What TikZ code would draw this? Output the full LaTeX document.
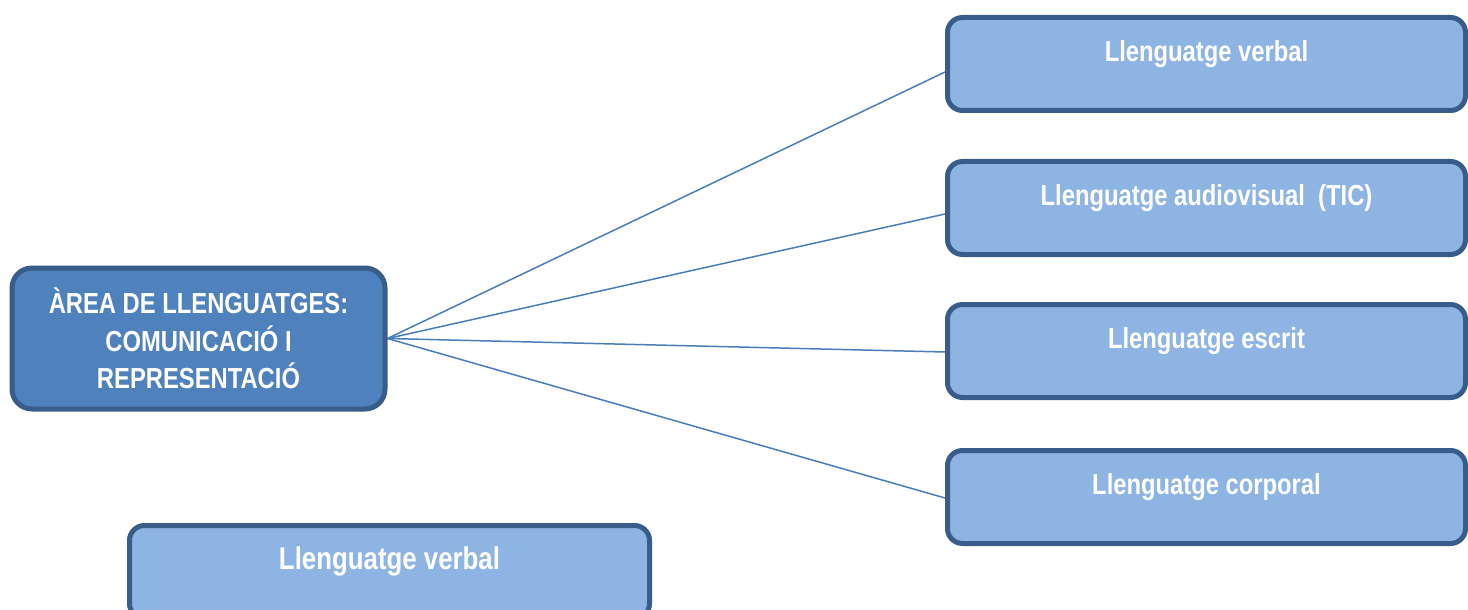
\documentclass[tikz,border=0pt]{standalone}
\usepackage{fontspec}
\setmainfont{Liberation Sans}
\newfontfamily\narrowfont[FakeStretch=0.82]{Liberation Sans}
\usetikzlibrary{calc, backgrounds}
\definecolor{areafill}{HTML}{4F81BD}
\definecolor{langfill}{HTML}{8EB4E3}
\definecolor{boxedge}{HTML}{385D8A}
\definecolor{linkblue}{HTML}{4A7EBB}

\begin{document}
\begin{tikzpicture}[x=0.5pt, y=-0.5pt,
		boxfont/.style={font=\narrowfont\bfseries\fontsize{14.5}{18.75}\selectfont, text=white},
		areabox/.style={boxfont, draw=boxedge, line width=2.5pt, fill=areafill, rounded corners=10pt,
			align=center, minimum width=186.5pt, minimum height=70.5pt, inner sep=0pt},
		langbox/.style={boxfont, draw=boxedge, line width=2.5pt, fill=langfill, rounded corners=7.5pt,
			minimum width=259pt, inner sep=0pt, text height=22pt, text depth=24.5pt},
		link/.style={draw=linkblue, line width=0.75pt}]

	\path[use as bounding box] (0,0) rectangle (1468,610);
	\clip (0,0) rectangle (1468,610);

	\node[areabox] (area) at (198.5,338.5) {ÀREA DE LLENGUATGES:\\ COMUNICACIÓ I\\ REPRESENTACIÓ};

	\foreach \n/\y/\txt in {1/64/Llenguatge verbal, 2/208/Llenguatge audiovisual~ (TIC),
		3/351/Llenguatge escrit, 4/497/Llenguatge corporal}
	{
		\node[langbox] (lang\n) at (1206.5,\y) {\txt};
	}

	\node[langbox, minimum width=260pt, font=\narrowfont\bfseries\fontsize{15.75}{19}\selectfont]
		(loose) at (389.5,572) {Llenguatge verbal};

	% links go under the boxes
	\begin{scope}[on background layer]
		\fill[white] (0,0) rectangle (1468,610);
		\foreach \n/\dy in {1/8, 2/6, 3/1, 4/1}
		{
			\draw[link] (area.east) -- ($(lang\n.west)+(0,\dy)$);
		}
	\end{scope}
\end{tikzpicture}
\end{document}
